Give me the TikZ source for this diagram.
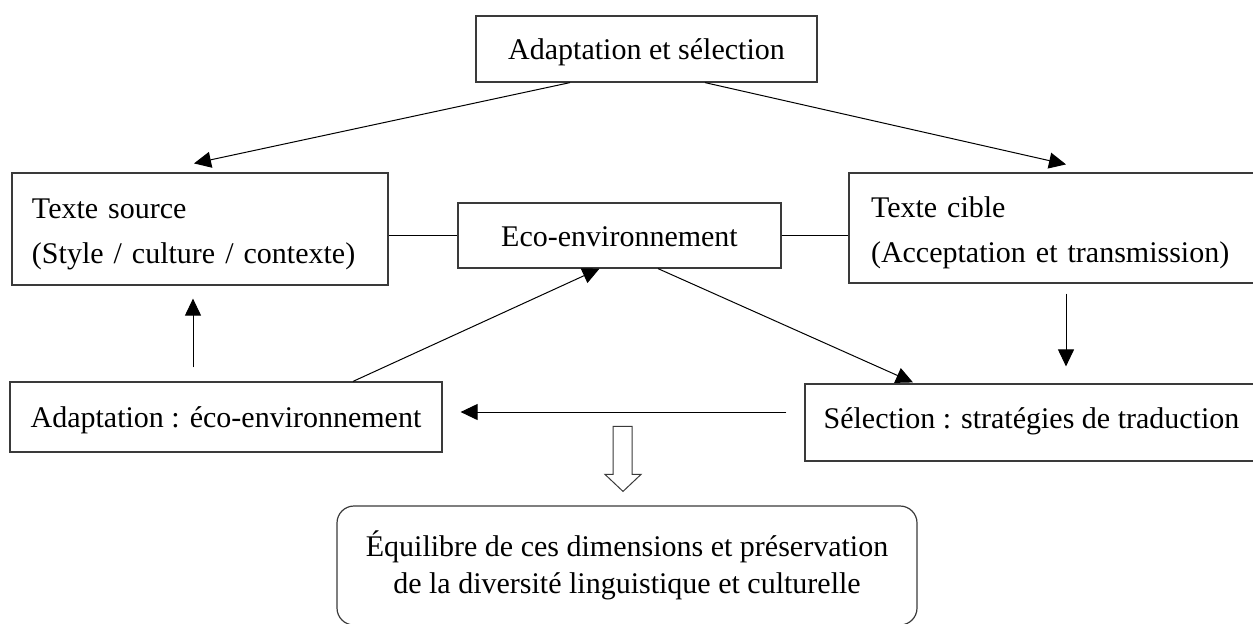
\documentclass[tikz,border=0pt]{standalone}
\usepackage{fontspec}
\setmainfont{Liberation Serif}
\usetikzlibrary{arrows.meta,positioning,calc}
\definecolor{framegrey}{HTML}{3A3A3A}

\begin{document}
\begin{tikzpicture}[
  x=0.5pt,y=-0.5pt,
  box/.style={draw=framegrey,line width=0.6pt,inner sep=0pt,
              font=\fontsize{15}{22.5}\selectfont,
              text height=12pt,text depth=1.5pt},
  lbox/.style={box,align=left,inner xsep=11pt,
              text height=15.5pt,text depth=},
  rbox/.style={box,rounded corners=8.5pt,align=center,text height=,text depth=,
              font=\fontsize{15}{18.3}\selectfont},
  arr/.style={-{Triangle[length=8.5pt,width=8pt]},line width=0.5pt},
  ln/.style={line width=0.5pt},
  hollow/.style={draw=framegrey,line width=0.5pt,fill=white}]

  \useasboundingbox (0,0) rectangle (1253,623);

  \node[box,minimum width=170.5pt,minimum height=33pt] (top) at (646.5,49)
       {Adaptation et sélection};
  \node[lbox,inner xsep=10pt,text width=168pt,minimum height=56pt] (src) at (200,229)
       {Texte source\\(Style / culture / contexte)};
  \node[box,minimum width=161.5pt,minimum height=32.5pt] (eco) at (619.5,235.5)
       {Eco-environnement};
  \node[lbox,text width=182.5pt,minimum height=55pt] (tgt) at (1053.5,228)
       {Texte cible\\(Acceptation et transmission)};
  \node[box,minimum width=216pt,minimum height=35pt] (adp) at (226,417)
       {Adaptation : éco-environnement};
  \node[box,text depth=6.5pt,minimum width=226.5pt,minimum height=38.5pt] (sel) at (1031.5,422.5)
       {Sélection : stratégies de traduction};
  \node[rbox,minimum width=290pt,minimum height=59.5pt] (eq) at (627,565.5)
       {Équilibre de ces dimensions et préservation\\
        de la diversité linguistique et culturelle};

  % liens
  \draw[arr] ($(top.south)+(-76.5,0)$) -- ($(src.north)+(-6,-9)$);
  \draw[arr] ($(top.south)+(58.5,0)$) -- ($(tgt.north)+(12.5,-8)$);
  \draw[ln] (eco.west -| src.east) -- (eco.west);
  \draw[ln] (eco.east) -- (eco.east -| tgt.west);
  \draw[arr] ($(adp.north)+(-33,-14)$) -- ($(src.south)+(-7,13)$);
  \draw[arr] ($(adp.north)+(127,0)$) -- ($(eco.south)+(-20,0)$);
  \draw[arr] ($(eco.south)+(38.5,0)$) -- ($(sel.north)+(-118.5,-1)$);
  \draw[arr] ($(tgt.south)+(12.5,10)$) -- ($(sel.north)+(34.5,-17)$);
  \draw[arr] ($(sel.west)+(-18,-10.5)$) -- ($(adp.east)+(18,-5)$);

  % fleche creuse
  \draw[hollow] ($(eq.north)+(-14,-79)$) -- ++(0,48) -- ++(-8,0) -- ++(18,17)
        -- ++(18,-17) -- ++(-9,0) -- ++(0,-48) -- cycle;
\end{tikzpicture}
\end{document}
